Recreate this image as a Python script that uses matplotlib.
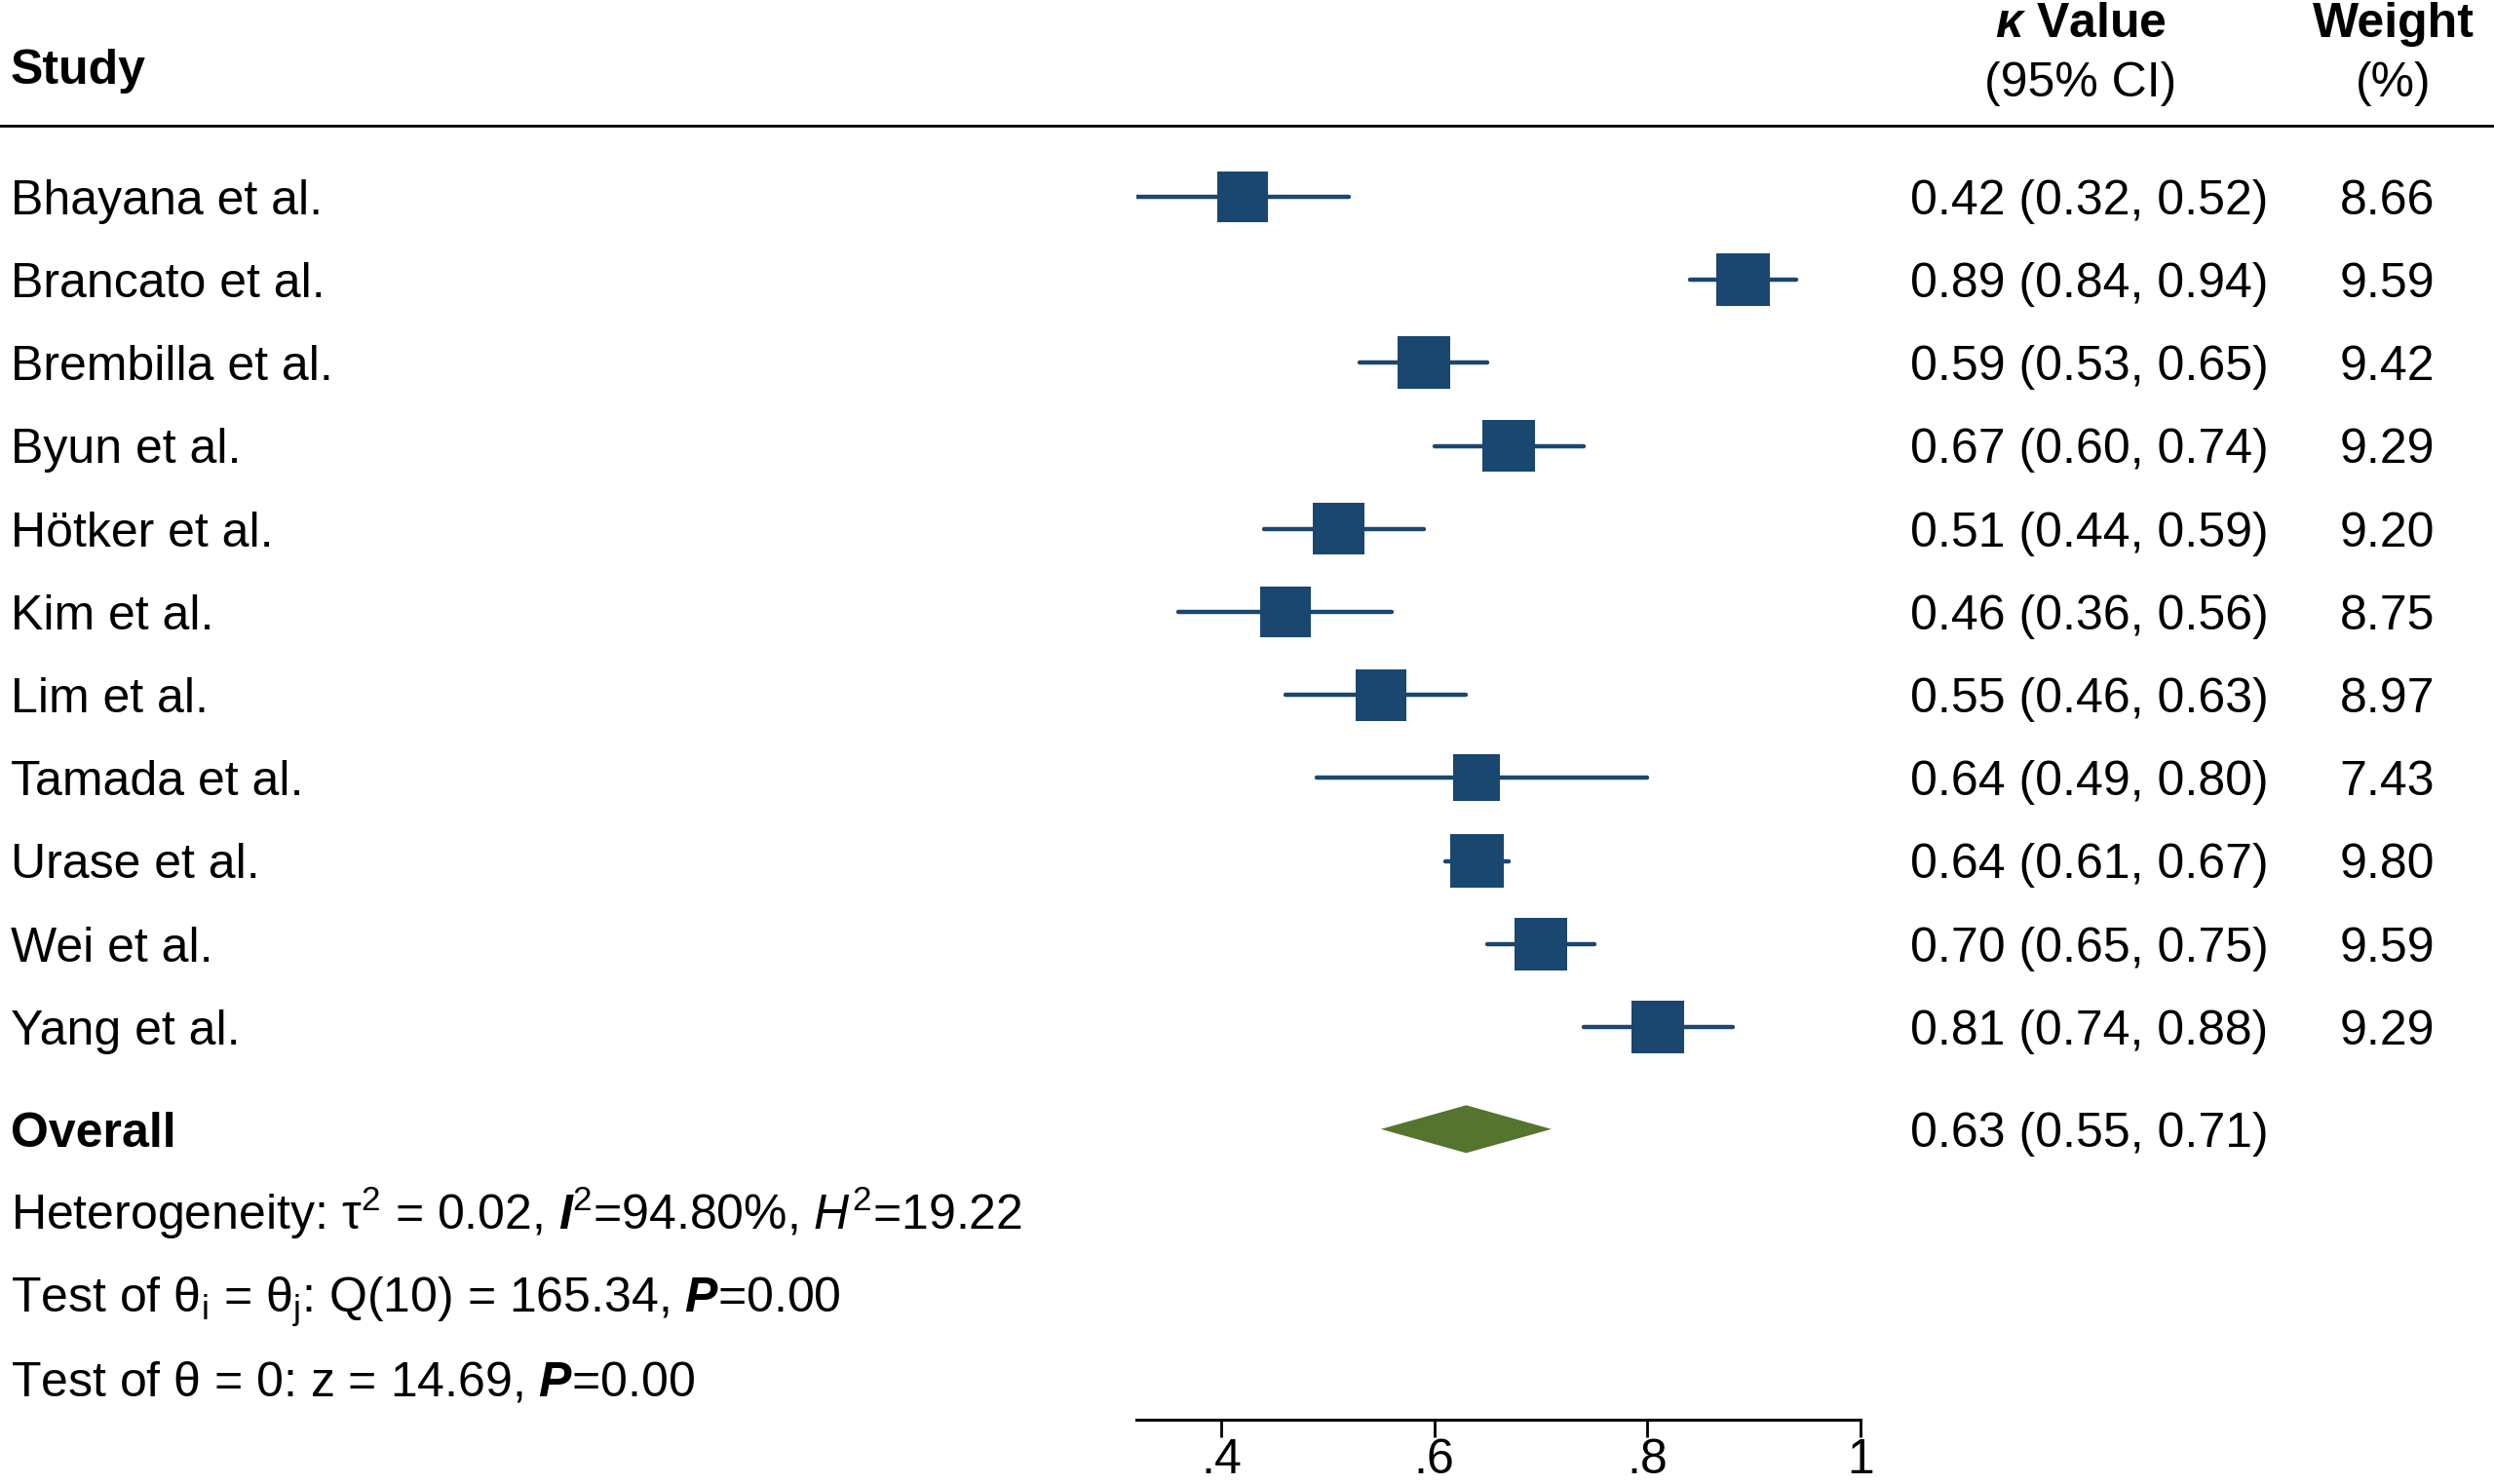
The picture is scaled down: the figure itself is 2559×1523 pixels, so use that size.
import matplotlib
matplotlib.use("Agg")
import matplotlib.pyplot as plt
from matplotlib.lines import Line2D
from matplotlib.transforms import blended_transform_factory

# study data
studies = ["Bhayana et al.", "Brancato et al.", "Brembilla et al.", "Byun et al.",
           "Hötker et al.", "Kim et al.", "Lim et al.", "Tamada et al.",
           "Urase et al.", "Wei et al.", "Yang et al."]
kappa = [0.42, 0.89, 0.59, 0.67, 0.51, 0.46, 0.55, 0.64, 0.64, 0.70, 0.81]
ci_low = [0.32, 0.84, 0.53, 0.60, 0.44, 0.36, 0.46, 0.49, 0.61, 0.65, 0.74]
ci_high = [0.52, 0.94, 0.65, 0.74, 0.59, 0.56, 0.63, 0.80, 0.67, 0.75, 0.88]
weights = [8.66, 9.59, 9.42, 9.29, 9.20, 8.75, 8.97, 7.43, 9.80, 9.59, 9.29]

overall = (0.63, 0.55, 0.71)
stats_lines = [
    r"Heterogeneity: τ${}^{2}$ = 0.02, $\mathbfit{I}^{2}$=94.80%, $\mathit{H}^{2}$=19.22",
    r"Test of θ${}_{\mathrm{i}}$ = θ${}_{\mathrm{j}}$: Q(10) = 165.34, $\mathbfit{P}$=0.00",
    r"Test of θ = 0: z = 14.69, $\mathbfit{P}$=0.00",
]
x_ticks = [0.4, 0.6, 0.8, 1.0]
x_ticklabels = [".4", ".6", ".8", "1"]

plt.rcParams["font.family"] = ["Liberation Sans", "DejaVu Sans"]
plt.rcParams["mathtext.fontset"] = "custom"
plt.rcParams["mathtext.rm"] = "Liberation Sans"
plt.rcParams["mathtext.it"] = "Liberation Sans:italic"
plt.rcParams["mathtext.bf"] = "Liberation Sans:bold"
plt.rcParams["mathtext.bfit"] = "Liberation Sans:bold:italic"

W, H = 2559, 1523
FS = 36
navy = "#1a476f"
green = "#55752f"

fig = plt.figure(figsize=(W / 100, H / 100), dpi=100)

# pixel layout of the plotting column
row0, row_h = 202, 85.2
ax_bottom_px = 1457
x_left = 1253 + (0.32 - 0.4) * 1093
x_right = 1253 + (1.0 - 0.4) * 1093
ax = fig.add_axes([x_left / W, (H - ax_bottom_px) / H, (x_right - x_left) / W, ax_bottom_px / H])
ax.set_xlim(0.32, 1.0)
ax.set_ylim((ax_bottom_px - row0) / row_h, -row0 / row_h)

rows = list(range(len(studies)))
ax.hlines(rows, ci_low, ci_high, color=navy, lw=3.2, capstyle="round", zorder=2)
sides = [17.6 * w ** 0.5 * 0.72 for w in weights]
ax.scatter(kappa, rows, s=[s ** 2 for s in sides], marker="s", color=navy, lw=0, zorder=3)

y_over = len(studies) + 0.23
dh = 24.5 / row_h
est, lo, hi = overall
ax.fill([lo, est, hi, est], [y_over, y_over - dh, y_over, y_over + dh], color=green, lw=0)

for side in ["top", "left", "right"]:
    ax.spines[side].set_visible(False)
ax.spines["bottom"].set_linewidth(2.2)
ax.set_xticks(x_ticks)
ax.set_xticklabels(x_ticklabels)
ax.tick_params(axis="x", length=13, width=2, labelsize=FS, pad=1)
ax.set_yticks([])
ax.patch.set_alpha(0)

# text columns
tr = blended_transform_factory(fig.transFigure, ax.transData)
x_study = 11 / W
x_ci = 1960 / W
x_wt = 2498 / W
base = 0.21
for i, name in enumerate(studies):
    ax.text(x_study, i + base, name, transform=tr, fontsize=FS, va="baseline", ha="left")
    ax.text(x_ci, i + base, f"{kappa[i]:.2f} ({ci_low[i]:.2f}, {ci_high[i]:.2f})",
            transform=tr, fontsize=FS, va="baseline", ha="left")
    ax.text(x_wt, i + base, f"{weights[i]:.2f}", transform=tr, fontsize=FS,
            va="baseline", ha="right")

ax.text(x_study, y_over + base, "Overall", transform=tr, fontsize=FS, fontweight="bold",
        va="baseline", ha="left")
ax.text(x_ci, y_over + base, f"{est:.2f} ({lo:.2f}, {hi:.2f})", transform=tr,
        fontsize=FS, va="baseline", ha="left")
for j, line in enumerate(stats_lines):
    ax.text(x_study, y_over + 1 + j + base, line, transform=tr, fontsize=FS,
            va="baseline", ha="left")

# header
fig.text(x_study, 1 - 86 / H, "Study", fontsize=FS, fontweight="bold", va="baseline")
fig.text(2135 / W, 1 - 38 / H, r"$\mathbfit{\kappa}$ Value", fontsize=FS, fontweight="bold",
         va="baseline", ha="center")
fig.text(2135 / W, 1 - 99 / H, "(95% CI)", fontsize=FS, va="baseline", ha="center")
fig.text(2456 / W, 1 - 38 / H, "Weight", fontsize=FS, fontweight="bold",
         va="baseline", ha="center")
fig.text(2456 / W, 1 - 99 / H, "(%)", fontsize=FS, va="baseline", ha="center")
fig.add_artist(Line2D([0, 1], [1 - 129 / H, 1 - 129 / H], transform=fig.transFigure,
                      color="black", lw=2))

fig.savefig("out.png", dpi=100, facecolor="white")
